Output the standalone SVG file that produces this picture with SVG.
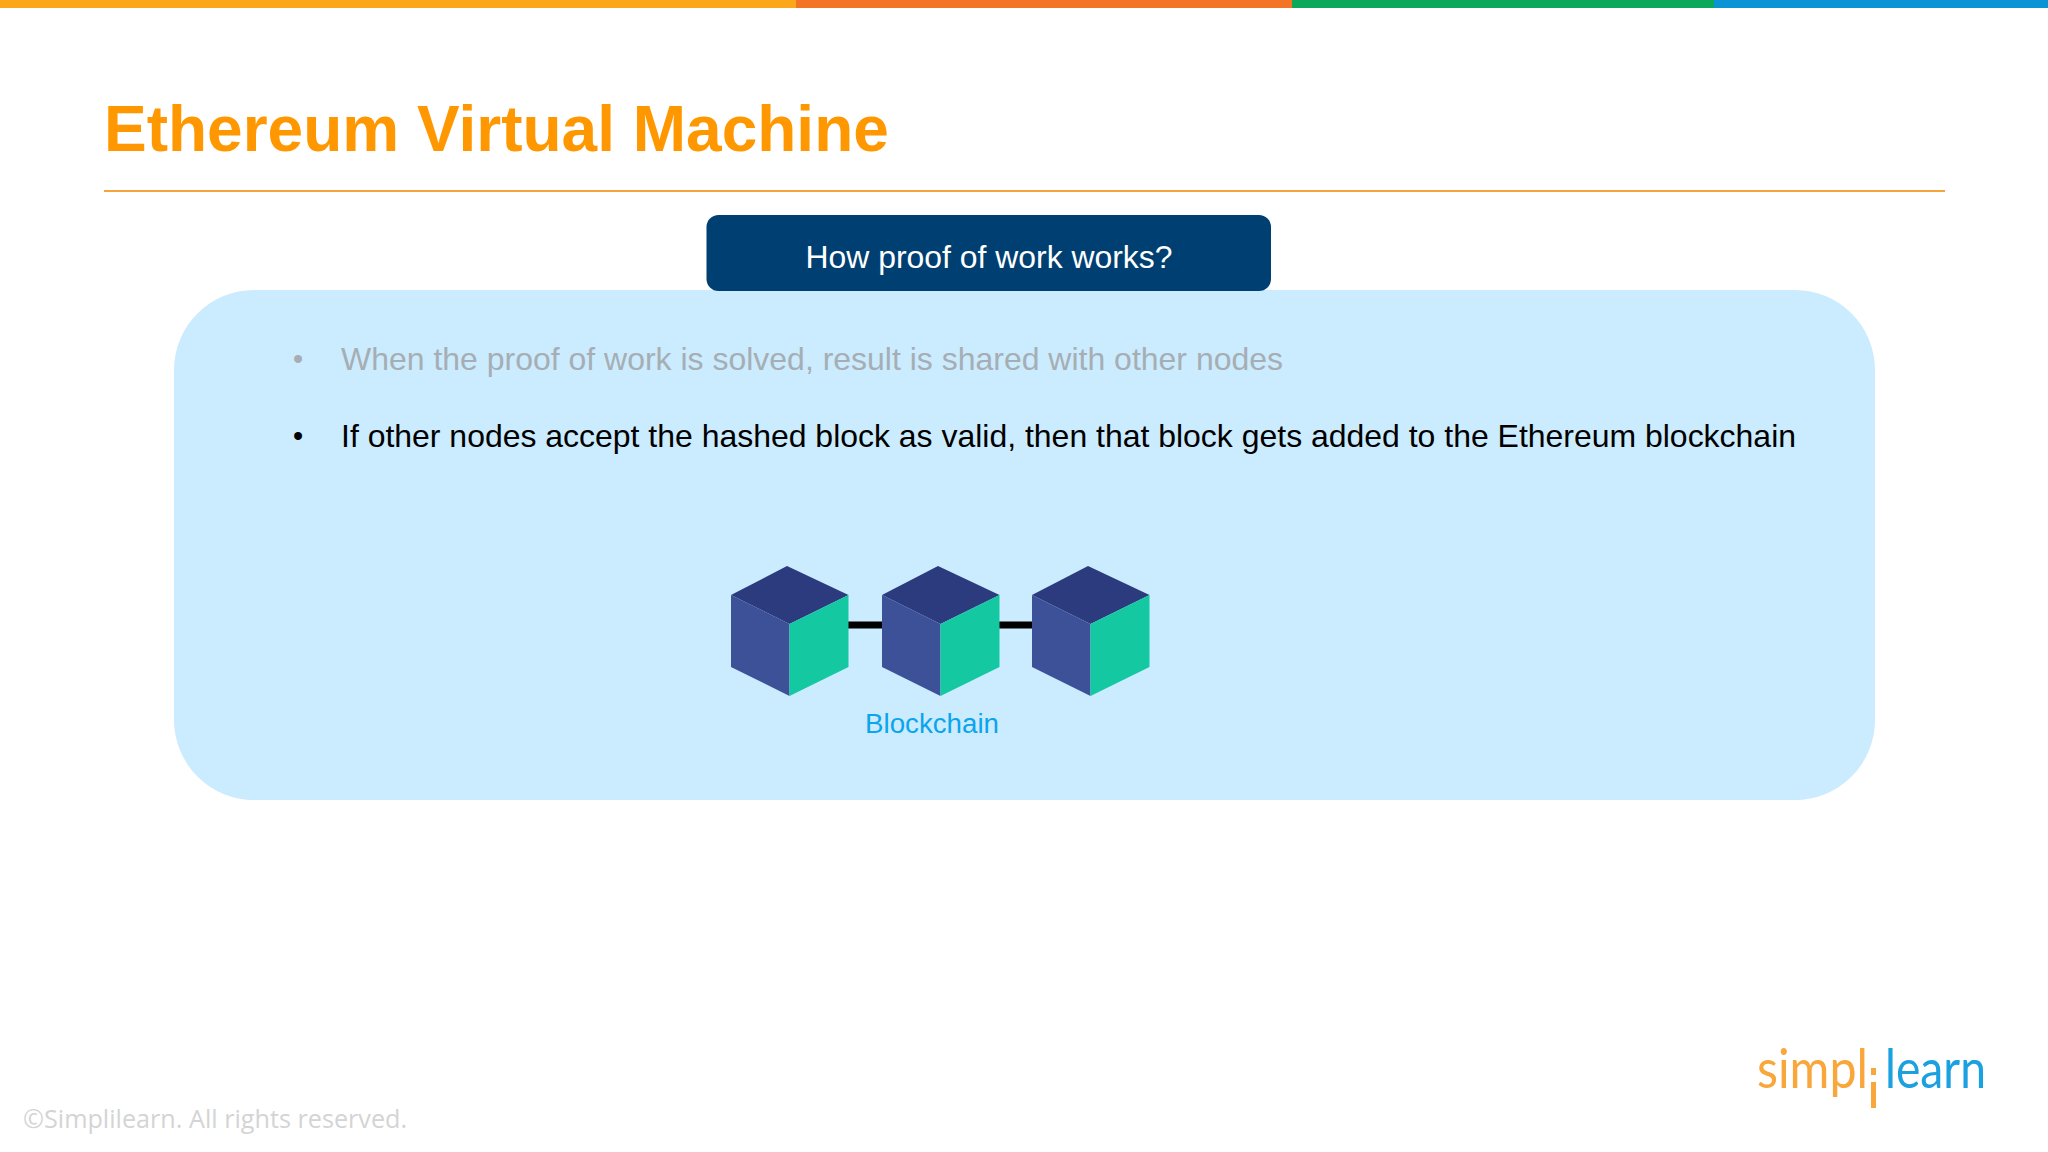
<svg xmlns="http://www.w3.org/2000/svg" width="2048" height="1152" viewBox="0 0 2048 1152">
<style>
text{font-family:"Liberation Sans",Arial,sans-serif}
.top{fill:#2c3a7e}.left{fill:#3d5199}.right{fill:#14c9a2}
.link{stroke:#000;stroke-width:7;fill:none}
.bul{font-size:32px}
.dot{font-size:29px}
.logo{font-family:Lato,sans-serif;font-size:54px}
</style>
<defs>
<g id="cube">
<polygon class="top" points="787,566 848.500,595 789.500,624 731,595"/>
<polygon class="left" points="731,595 789.500,624 789.500,696 731,667"/>
<polygon class="right" points="789.500,624 848.500,595 848.500,667 789.500,696"/>
</g>
</defs>
<rect width="2048" height="1152" fill="#fff"/>
<rect x="0" y="0" width="796" height="8" fill="#fca61a"/>
<rect x="796" y="0" width="496" height="8" fill="#f47425"/>
<rect x="1292" y="0" width="422" height="8" fill="#0aa858"/>
<rect x="1714" y="0" width="334" height="8" fill="#0a94d6"/>
<text x="104" y="151" font-size="64" font-weight="bold" fill="#ff9800">Ethereum Virtual Machine</text>
<rect x="104" y="190" width="1841" height="2" fill="#f5a53c"/>
<rect id="panel" x="174" y="290" width="1701" height="510" rx="80" fill="#cbebfe"/>
<g id="header">
<rect x="706.500" y="215" width="564.500" height="76" rx="12" fill="#003f72"/>
<text x="989" y="268" font-size="32" fill="#fff" text-anchor="middle" textLength="367" lengthAdjust="spacingAndGlyphs">How proof of work works?</text>
</g>
<text class="dot" x="293" y="369" fill="#a6aeb4">•</text>
<text class="bul" x="341" y="370" fill="#a6aeb4" textLength="942" lengthAdjust="spacingAndGlyphs">When the proof of work is solved, result is shared with other nodes</text>
<text class="dot" x="293" y="446" fill="#000">•</text>
<text class="bul" x="341" y="447" fill="#000" textLength="1455" lengthAdjust="spacingAndGlyphs">If other nodes accept the hashed block as valid, then that block gets added to the Ethereum blockchain</text>
<g id="connectors">
<line class="link" x1="848" y1="625" x2="883" y2="625"/>
<line class="link" x1="999" y1="625" x2="1034" y2="625"/>
</g>
<g id="block1"><use href="#cube"/></g>
<g id="block2"><use href="#cube" x="151"/></g>
<g id="block3"><use href="#cube" x="301"/></g>
<text x="932" y="733" font-size="27.700" fill="#0ba5ec" text-anchor="middle">Blockchain</text>
<text x="23" y="1128" font-size="25.200" fill="#d4d4d4" style="font-family:'Open Sans',sans-serif">©Simplilearn. All rights reserved.</text>
<g id="logo">
<text class="logo" x="1757" y="1088" fill="#f9a63a" textLength="111" lengthAdjust="spacingAndGlyphs">simpl</text>
<rect x="1871" y="1082" width="5" height="26" fill="#f9a63a"/>
<rect x="1871" y="1068" width="5" height="7" fill="#f9a63a"/>
<text class="logo" x="1885" y="1088" fill="#1ba0e0" textLength="101" lengthAdjust="spacingAndGlyphs">learn</text>
</g>
</svg>
